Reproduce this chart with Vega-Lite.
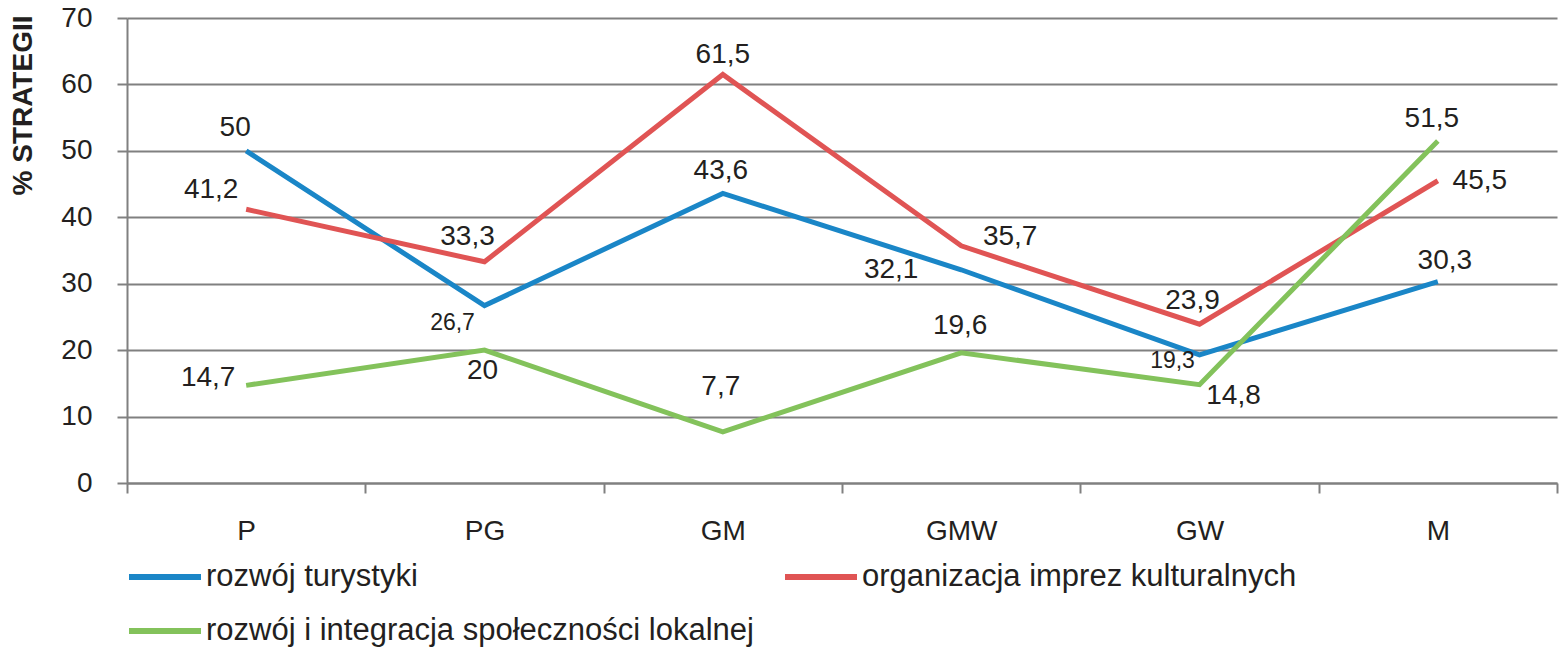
{
  "$schema": "https://vega.github.io/schema/vega-lite/v6.json",
  "width": 1430,
  "height": 465,
  "autosize": "none",
  "padding": {"left": 127, "top": 18, "right": 2, "bottom": 164},
  "background": "white",
  "config": {
    "view": {"stroke": null},
    "font": "Liberation Sans",
    "locale": {"number": {"decimal": ",", "thousands": " ", "grouping": [3], "currency": ["", " zł"]}}
  },
  "data": {"values": [
    {"c": "P", "s": "rozwój turystyki", "v": 50},
    {"c": "PG", "s": "rozwój turystyki", "v": 26.7},
    {"c": "GM", "s": "rozwój turystyki", "v": 43.6},
    {"c": "GMW", "s": "rozwój turystyki", "v": 32.1},
    {"c": "GW", "s": "rozwój turystyki", "v": 19.3},
    {"c": "M", "s": "rozwój turystyki", "v": 30.3},
    {"c": "P", "s": "organizacja imprez kulturalnych", "v": 41.2},
    {"c": "PG", "s": "organizacja imprez kulturalnych", "v": 33.3},
    {"c": "GM", "s": "organizacja imprez kulturalnych", "v": 61.5},
    {"c": "GMW", "s": "organizacja imprez kulturalnych", "v": 35.7},
    {"c": "GW", "s": "organizacja imprez kulturalnych", "v": 23.9},
    {"c": "M", "s": "organizacja imprez kulturalnych", "v": 45.5},
    {"c": "P", "s": "rozwój i integracja społeczności lokalnej", "v": 14.7},
    {"c": "PG", "s": "rozwój i integracja społeczności lokalnej", "v": 20},
    {"c": "GM", "s": "rozwój i integracja społeczności lokalnej", "v": 7.7},
    {"c": "GMW", "s": "rozwój i integracja społeczności lokalnej", "v": 19.6},
    {"c": "GW", "s": "rozwój i integracja społeczności lokalnej", "v": 14.8},
    {"c": "M", "s": "rozwój i integracja społeczności lokalnej", "v": 51.5}
  ]},
  "encoding": {
    "x": {
      "field": "c", "type": "nominal", "sort": ["P", "PG", "GM", "GMW", "GW", "M"],
      "bandPosition": 0.5,
      "scale": {"type": "band", "paddingInner": 0, "paddingOuter": 0},
      "axis": {
        "title": null, "labelAngle": 0, "grid": false,
        "domain": true, "domainColor": "#808080", "domainWidth": 2,
        "ticks": true, "tickBand": "extent", "tickColor": "#808080", "tickWidth": 2, "tickSize": 10,
        "labelFontSize": 28, "labelColor": "#231f20", "labelPadding": 24, "labelFont": "Liberation Sans"
      }
    },
    "y": {
      "field": "v", "type": "quantitative",
      "scale": {"domain": [0, 70], "nice": false},
      "axis": {
        "values": [0, 10, 20, 30, 40, 50, 60, 70],
        "grid": true, "gridColor": "#808080", "gridWidth": 2,
        "domain": true, "domainColor": "#808080", "domainWidth": 2,
        "ticks": true, "tickColor": "#808080", "tickWidth": 2, "tickSize": 10,
        "labelFontSize": 28, "labelColor": "#231f20", "labelPadding": 25, "labelFont": "Liberation Sans",
        "title": "% STRATEGII", "titleFontSize": 28, "titleFontWeight": "bold", "titleColor": "#231f20",
        "titleFont": "Liberation Sans", "titleAngle": 270, "titleX": -104, "titleY": 87,
        "titleAlign": "center", "titleBaseline": "middle"
      }
    }
  },
  "layer": [
    {
      "mark": {"type": "line", "strokeWidth": 5},
      "encoding": {
        "color": {
          "field": "s", "type": "nominal",
          "scale": {
            "domain": ["rozwój turystyki", "rozwój i integracja społeczności lokalnej", "organizacja imprez kulturalnych"],
            "range": ["#1a86c7", "#83c25b", "#e05454"]
          },
          "legend": {
            "title": null, "orient": "none", "legendX": -1, "legendY": 520, "direction": "vertical",
            "columns": 2, "columnPadding": 19, "rowPadding": 0,
            "symbolType": "stroke", "symbolSize": 5184, "symbolStrokeWidth": 6,
            "labelFontSize": 31, "labelFont": "Liberation Sans", "labelColor": "#231f20",
            "labelOffset": 2, "labelLimit": 1000
          }
        }
      }
    },
    {"transform": [{"filter": "datum.s=='rozwój turystyki' && datum.c=='P'"}], "mark": {"type": "text", "fontSize": 28, "color": "#231f20", "dx": -11, "dy": -23}, "encoding": {"text": {"field": "v", "type": "quantitative", "format": ".3~g"}}},
    {"transform": [{"filter": "datum.s=='rozwój turystyki' && datum.c=='PG'"}], "mark": {"type": "text", "fontSize": 23, "color": "#231f20", "dx": -32, "dy": 17}, "encoding": {"text": {"field": "v", "type": "quantitative", "format": ".3~g"}}},
    {"transform": [{"filter": "datum.s=='rozwój turystyki' && datum.c=='GM'"}], "mark": {"type": "text", "fontSize": 28, "color": "#231f20", "dx": -2, "dy": -22}, "encoding": {"text": {"field": "v", "type": "quantitative", "format": ".3~g"}}},
    {"transform": [{"filter": "datum.s=='rozwój turystyki' && datum.c=='GMW'"}], "mark": {"type": "text", "fontSize": 28, "color": "#231f20", "dx": -70, "dy": 0}, "encoding": {"text": {"field": "v", "type": "quantitative", "format": ".3~g"}}},
    {"transform": [{"filter": "datum.s=='rozwój turystyki' && datum.c=='GW'"}], "mark": {"type": "text", "fontSize": 23, "color": "#231f20", "dx": -27, "dy": 6}, "encoding": {"text": {"field": "v", "type": "quantitative", "format": ".3~g"}}},
    {"transform": [{"filter": "datum.s=='rozwój turystyki' && datum.c=='M'"}], "mark": {"type": "text", "fontSize": 28, "color": "#231f20", "dx": 7, "dy": -21}, "encoding": {"text": {"field": "v", "type": "quantitative", "format": ".3~g"}}},
    {"transform": [{"filter": "datum.s=='organizacja imprez kulturalnych' && datum.c=='P'"}], "mark": {"type": "text", "fontSize": 28, "color": "#231f20", "dx": -35, "dy": -19}, "encoding": {"text": {"field": "v", "type": "quantitative", "format": ".3~g"}}},
    {"transform": [{"filter": "datum.s=='organizacja imprez kulturalnych' && datum.c=='PG'"}], "mark": {"type": "text", "fontSize": 28, "color": "#231f20", "dx": -17, "dy": -25}, "encoding": {"text": {"field": "v", "type": "quantitative", "format": ".3~g"}}},
    {"transform": [{"filter": "datum.s=='organizacja imprez kulturalnych' && datum.c=='GM'"}], "mark": {"type": "text", "fontSize": 28, "color": "#231f20", "dx": 0, "dy": -19}, "encoding": {"text": {"field": "v", "type": "quantitative", "format": ".3~g"}}},
    {"transform": [{"filter": "datum.s=='organizacja imprez kulturalnych' && datum.c=='GMW'"}], "mark": {"type": "text", "fontSize": 28, "color": "#231f20", "dx": 49, "dy": -9}, "encoding": {"text": {"field": "v", "type": "quantitative", "format": ".3~g"}}},
    {"transform": [{"filter": "datum.s=='organizacja imprez kulturalnych' && datum.c=='GW'"}], "mark": {"type": "text", "fontSize": 28, "color": "#231f20", "dx": -7, "dy": -23}, "encoding": {"text": {"field": "v", "type": "quantitative", "format": ".3~g"}}},
    {"transform": [{"filter": "datum.s=='organizacja imprez kulturalnych' && datum.c=='M'"}], "mark": {"type": "text", "fontSize": 28, "color": "#231f20", "dx": 42, "dy": 0}, "encoding": {"text": {"field": "v", "type": "quantitative", "format": ".3~g"}}},
    {"transform": [{"filter": "datum.s=='rozwój i integracja społeczności lokalnej' && datum.c=='P'"}], "mark": {"type": "text", "fontSize": 28, "color": "#231f20", "dx": -38, "dy": -7}, "encoding": {"text": {"field": "v", "type": "quantitative", "format": ".3~g"}}},
    {"transform": [{"filter": "datum.s=='rozwój i integracja społeczności lokalnej' && datum.c=='PG'"}], "mark": {"type": "text", "fontSize": 28, "color": "#231f20", "dx": -2, "dy": 21}, "encoding": {"text": {"field": "v", "type": "quantitative", "format": ".3~g"}}},
    {"transform": [{"filter": "datum.s=='rozwój i integracja społeczności lokalnej' && datum.c=='GM'"}], "mark": {"type": "text", "fontSize": 28, "color": "#231f20", "dx": -2, "dy": -45}, "encoding": {"text": {"field": "v", "type": "quantitative", "format": ".3~g"}}},
    {"transform": [{"filter": "datum.s=='rozwój i integracja społeczności lokalnej' && datum.c=='GMW'"}], "mark": {"type": "text", "fontSize": 28, "color": "#231f20", "dx": -1, "dy": -27}, "encoding": {"text": {"field": "v", "type": "quantitative", "format": ".3~g"}}},
    {"transform": [{"filter": "datum.s=='rozwój i integracja społeczności lokalnej' && datum.c=='GW'"}], "mark": {"type": "text", "fontSize": 28, "color": "#231f20", "dx": 34, "dy": 11}, "encoding": {"text": {"field": "v", "type": "quantitative", "format": ".3~g"}}},
    {"transform": [{"filter": "datum.s=='rozwój i integracja społeczności lokalnej' && datum.c=='M'"}], "mark": {"type": "text", "fontSize": 28, "color": "#231f20", "dx": -6, "dy": -22}, "encoding": {"text": {"field": "v", "type": "quantitative", "format": ".3~g"}}}
  ]
}
